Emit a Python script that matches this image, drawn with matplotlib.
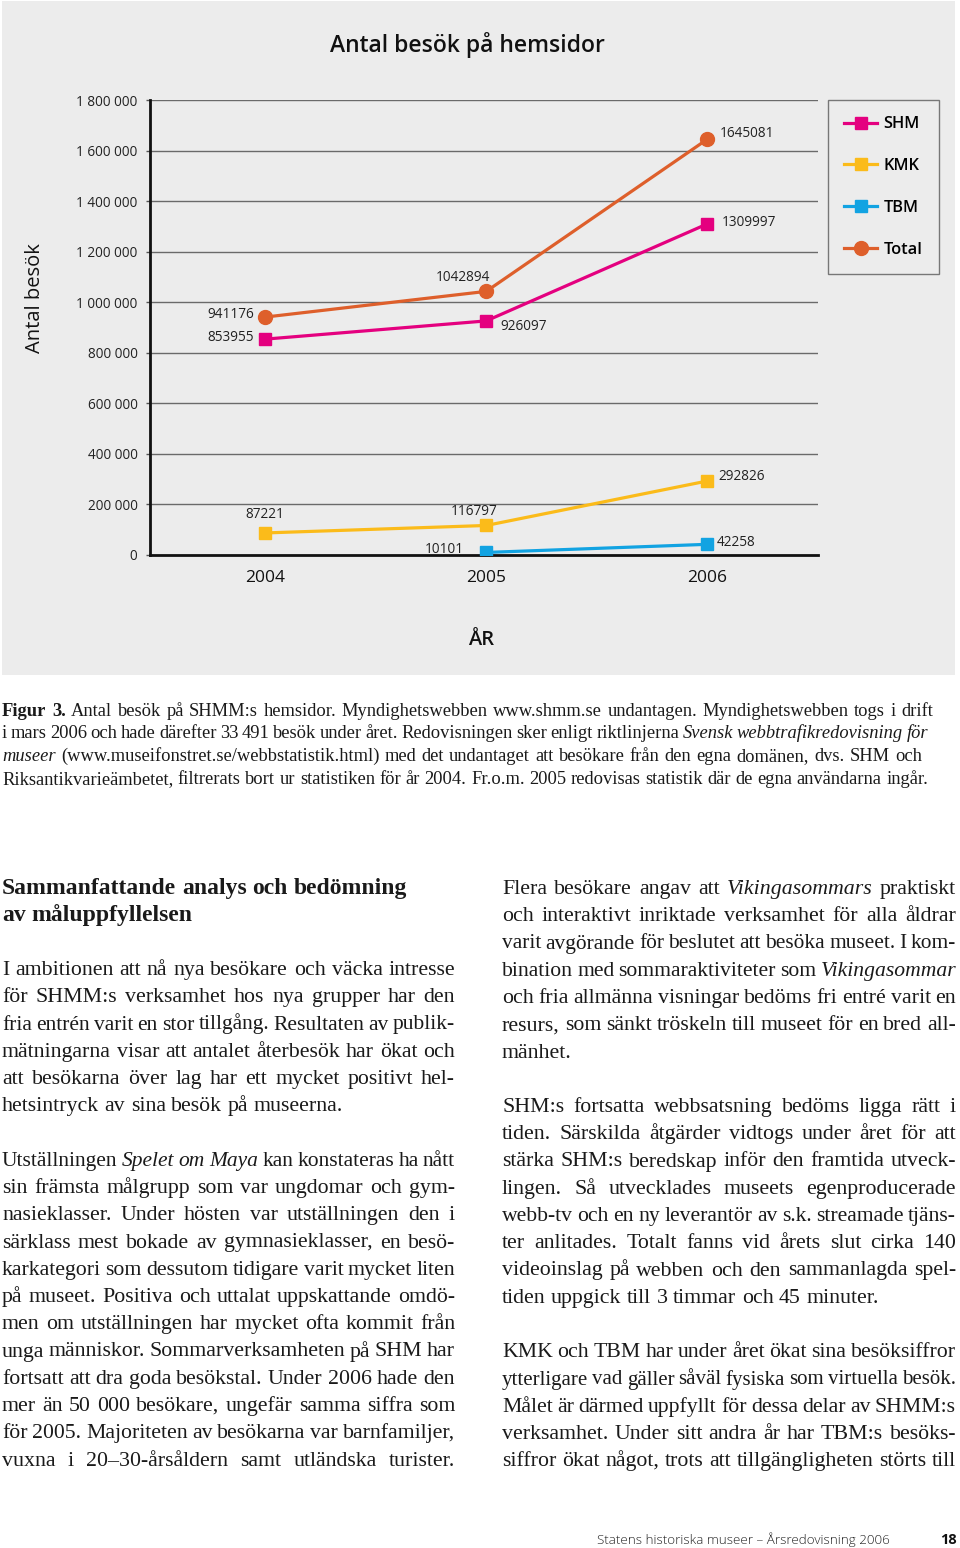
import matplotlib
matplotlib.use("Agg")
import matplotlib.pyplot as plt
from matplotlib.patches import Rectangle

# ---------------- data ----------------
years = ["2004", "2005", "2006"]
shm = [853955, 926097, 1309997]
kmk = [87221, 116797, 292826]
tbm = [None, 10101, 42258]
total = [941176, 1042894, 1645081]
yticks = [0, 200000, 400000, 600000, 800000, 1000000, 1200000, 1400000, 1600000, 1800000]
ytick_labels = ["0", "200 000", "400 000", "600 000", "800 000", "1 000 000",
                "1 200 000", "1 400 000", "1 600 000", "1 800 000"]
series_names = ["SHM", "KMK", "TBM", "Total"]
title = "Antal besök på hemsidor"
ylabel = "Antal besök"
xlabel = "ÅR"

caption_lines = [
    "#Figur #3. Antal besök på SHMM:s hemsidor. Myndighetswebben www.shmm.se undantagen. Myndighetswebben togs i drift",
    "i mars 2006 och hade därefter 33 491 besök under året. Redovisningen sker enligt riktlinjerna _Svensk _webbtrafikredovisning _för",
    "_museer (www.museifonstret.se/webbstatistik.html) med det undantaget att besökare från den egna domänen, dvs. SHM och",
    "Riksantikvarieämbetet, filtrerats bort ur statistiken för år 2004. Fr.o.m. 2005 redovisas statistik där de egna användarna ingår.",
]
heading_lines = ["Sammanfattande analys och bedömning", "av måluppfyllelsen"]
# (text, justified?) ; None = paragraph gap
left_col = [
    ("I ambitionen att nå nya besökare och väcka intresse", True),
    ("för SHMM:s verksamhet hos nya grupper har den", True),
    ("fria entrén varit en stor tillgång. Resultaten av publik-", True),
    ("mätningarna visar att antalet återbesök har ökat och", True),
    ("att besökarna över lag har ett mycket positivt hel-", True),
    ("hetsintryck av sina besök på museerna.", False),
    None,
    ("Utställningen _Spelet _om _Maya kan konstateras ha nått", True),
    ("sin främsta målgrupp som var ungdomar och gym-", True),
    ("nasieklasser. Under hösten var utställningen den i", True),
    ("särklass mest bokade av gymnasieklasser, en besö-", True),
    ("karkategori som dessutom tidigare varit mycket liten", True),
    ("på museet. Positiva och uttalat uppskattande omdö-", True),
    ("men om utställningen har mycket ofta kommit från", True),
    ("unga människor. Sommarverksamheten på SHM har", True),
    ("fortsatt att dra goda besökstal. Under 2006 hade den", True),
    ("mer än 50 000 besökare, ungefär samma siffra som", True),
    ("för 2005. Majoriteten av besökarna var barnfamiljer,", True),
    ("vuxna i 20–30-årsåldern samt utländska turister.", True),
]
right_col = [
    ("Flera besökare angav att _Vikingasommars praktiskt", True),
    ("och interaktivt inriktade verksamhet för alla åldrar", True),
    ("varit avgörande för beslutet att besöka museet. I kom-", True),
    ("bination med sommaraktiviteter som _Vikingasommar", True),
    ("och fria allmänna visningar bedöms fri entré varit en", True),
    ("resurs, som sänkt tröskeln till museet för en bred all-", True),
    ("mänhet.", False),
    None,
    ("SHM:s fortsatta webbsatsning bedöms ligga rätt i", True),
    ("tiden. Särskilda åtgärder vidtogs under året för att", True),
    ("stärka SHM:s beredskap inför den framtida utveck-", True),
    ("lingen. Så utvecklades museets egenproducerade", True),
    ("webb-tv och en ny leverantör av s.k. streamade tjäns-", True),
    ("ter anlitades. Totalt fanns vid årets slut cirka 140", True),
    ("videoinslag på webben och den sammanlagda spel-", True),
    ("tiden uppgick till 3 timmar och 45 minuter.", False),
    None,
    ("KMK och TBM har under året ökat sina besöksiffror", True),
    ("ytterligare vad gäller såväl fysiska som virtuella besök.", True),
    ("Målet är därmed uppfyllt för dessa delar av SHMM:s", True),
    ("verksamhet. Under sitt andra år har TBM:s besöks-", True),
    ("siffror ökat något, trots att tillgängligheten störts till", True),
]
footer_text = "Statens historiska museer – Årsredovisning 2006"
page_number = "18"

# ---------------- layout ----------------
W, H = 960, 1548
fig = plt.figure(figsize=(W / 100, H / 100), dpi=100)
fig.patch.set_facecolor("white")
renderer = fig.canvas.get_renderer()

def fx(x):
    return x / W

def fy(y):
    return 1 - y / H

BG = "#ececec"
fig.add_artist(Rectangle((fx(2), fy(675)), fx(955) - fx(2), fy(1) - fy(675),
                         transform=fig.transFigure, facecolor=BG, edgecolor="none", zorder=0))

SANS = "Open Sans"
SERIF = "Liberation Serif"

ax = fig.add_axes([fx(150), fy(555), fx(818) - fx(150), fy(100) - fy(555)])
ax.set_facecolor(BG)
ax.patch.set_alpha(0)

C_SHM = "#e4007f"
C_KMK = "#fbbb1a"
C_TBM = "#12a3e2"
C_TOT = "#de5f2b"
x = list(range(len(years)))

ax.plot(x, shm, color=C_SHM, lw=2.3, marker="s", ms=9, label=series_names[0], zorder=4)
ax.plot(x, kmk, color=C_KMK, lw=2.3, marker="s", ms=9, label=series_names[1], zorder=4)
xt = [xi for xi, v in zip(x, tbm) if v is not None]
vt = [v for v in tbm if v is not None]
ax.plot(xt, vt, color=C_TBM, lw=2.3, marker="s", ms=9, label=series_names[2], zorder=4)
ax.plot(x, total, color=C_TOT, lw=2.3, marker="o", ms=10, label=series_names[3], zorder=4)

ax.set_ylim(0, 1800000)
ax.set_xlim(-0.52, 2.50)
ax.set_yticks(yticks)
ax.set_yticklabels(ytick_labels, fontsize=9.8, family=SANS, color="#222222")
ax.set_xticks(x)
ax.set_xticklabels(years, fontsize=12.5, family=SANS, weight="medium", color="#111111")
ax.tick_params(axis="x", length=0, pad=11)
ax.tick_params(axis="y", length=3, width=1, color="#555555", pad=6)
for v in yticks[1:]:
    ax.axhline(v, color="#6a6a6a", lw=1.0, zorder=1)
for s in ["top", "right"]:
    ax.spines[s].set_visible(False)
ax.spines["left"].set_linewidth(2.0)
ax.spines["bottom"].set_linewidth(2.0)
ax.spines["left"].set_color("#111111")
ax.spines["bottom"].set_color("#111111")

lab_kw = dict(fontsize=9.8, family=SANS, color="#222222", textcoords="offset points")
def lab(xi, v, dx, dy, ha, va="center"):
    ax.annotate(f"{v}", (xi, v), xytext=(dx, dy), ha=ha, va=va, **lab_kw)

lab(0, total[0], -8, 2, "right")
lab(0, shm[0], -8, 1, "right")
lab(1, total[1], -17, 10, "center")
lab(1, shm[1], 10, -4, "left")
lab(2, total[2], 9, 4, "left")
lab(2, shm[2], 10, 1, "left")
lab(0, kmk[0], 0, 13, "center")
lab(1, kmk[1], -9, 10, "center")
lab(2, kmk[2], 8, 3, "left")
lab(1, tbm[1], -16, 2, "right")
lab(2, tbm[2], 7, 1, "left")

fig.text(fx(467), fy(45), title, ha="center", va="center", fontsize=16.5,
         family=SANS, weight="semibold", color="#111111")
fig.text(fx(35), fy(298), ylabel, ha="center", va="center", rotation=90,
         fontsize=14.5, family=SANS, color="#111111")
fig.text(fx(481), fy(640), xlabel, ha="center", va="center", fontsize=14.5,
         family=SANS, weight="semibold", color="#111111")

leg = ax.legend(loc="upper left", bbox_to_anchor=(fx(828), fy(100)),
                bbox_transform=fig.transFigure, frameon=True, fancybox=False,
                facecolor=BG, edgecolor="#777777", framealpha=1,
                prop=dict(family=SANS, size=11.8, weight="semibold"),
                labelspacing=1.57, handlelength=2.0, handletextpad=0.4,
                borderpad=1.0, borderaxespad=0)
leg.get_frame().set_linewidth(1.0)

# ---------------- text helpers ----------------
def parse(line):
    out = []
    for w in line.split(" "):
        st, wt = "normal", "normal"
        if w.startswith("#"):
            wt = "bold"; w = w[1:]
        elif w.startswith("_"):
            st = "italic"; w = w[1:]
        out.append((w, st, wt))
    return out

def space_w(size, family, weight="normal"):
    t1 = fig.text(0, 0, "n n", fontsize=size, family=family, weight=weight)
    t2 = fig.text(0, 0, "nn", fontsize=size, family=family, weight=weight)
    w = t1.get_window_extent(renderer).width - t2.get_window_extent(renderer).width
    t1.remove(); t2.remove()
    return w

def natural_width(line, size, family=SERIF, weight=None, gapfrac=1.0):
    segs = parse(line)
    tot = 0
    for w, st, wt in segs:
        t = fig.text(0, 0, w, fontsize=size, family=family, style=st, weight=weight or wt)
        tot += t.get_window_extent(renderer).width
        t.remove()
    return tot + gapfrac * space_w(size, family, weight or "normal") * (len(segs) - 1)

def draw_line(line, x0, ybase, size, family=SERIF, width=None, color="#1a1a1a", weight=None):
    segs = parse(line)
    texts, widths = [], []
    for w, st, wt in segs:
        t = fig.text(0, 0, w, fontsize=size, family=family, style=st,
                     weight=weight or wt, va="baseline", ha="left", color=color)
        texts.append(t)
        widths.append(t.get_window_extent(renderer).width)
    sp = space_w(size, family, weight or "normal")
    if width is not None and len(texts) > 1:
        gap = (width - sum(widths)) / (len(texts) - 1)
    else:
        gap = sp
    xx = x0
    for t, wd in zip(texts, widths):
        t.set_position((fx(xx), fy(ybase)))
        xx += wd + gap

# caption: one size, each line spread to the right edge it reaches in the reference
cap_targets = [933, 928, 922, 928]
cap_ratios = sorted(12.0 * tw / natural_width(ln, 12.0, gapfrac=0.8)
                    for ln, tw in zip(caption_lines, cap_targets))
cap_size = cap_ratios[0]
cap_base = [716, 738, 761, 784]
for ln, yb, tw in zip(caption_lines, cap_base, cap_targets):
    draw_line(ln, 2, yb, cap_size, width=tw - 2)

# heading
draw_line(heading_lines[0], 2, 894, 17.0, weight="bold")
draw_line(heading_lines[1], 2, 921, 17.0, weight="bold")

# body size: chosen so most justified lines are tight; overflowing lines shrink slightly
ratios = []
for col in (left_col, right_col):
    for item in col:
        if item is not None and item[1]:
            ratios.append(453 / natural_width(item[0], 14.0, gapfrac=0.8))
ratios.sort()
body_size = 14.0 * ratios[len(ratios) // 3]

def draw_col(lines, x0, x1, y0, step=27.25, size=14.6):
    y = y0
    colw = x1 - x0
    for item in lines:
        if item is None:
            y += step
            continue
        txt, just = item
        s = size
        if just:
            nw = natural_width(txt, s, gapfrac=0.8)
            if nw > colw:
                s = s * colw / nw
        draw_line(txt, x0, y, s, width=colw if just else None)
        y += step

draw_col(left_col, 2, 455, 975, size=body_size)
draw_col(right_col, 502, 956, 894, size=body_size)

fig.text(fx(597), fy(1544), footer_text, ha="left", va="baseline", fontsize=9.6,
         family=SANS, weight="light", color="#222222")
fig.text(fx(948), fy(1544), page_number, ha="center", va="baseline", fontsize=10.5,
         family=SANS, weight="bold", color="#111111")

fig.savefig("out.png", dpi=100, facecolor="white")
